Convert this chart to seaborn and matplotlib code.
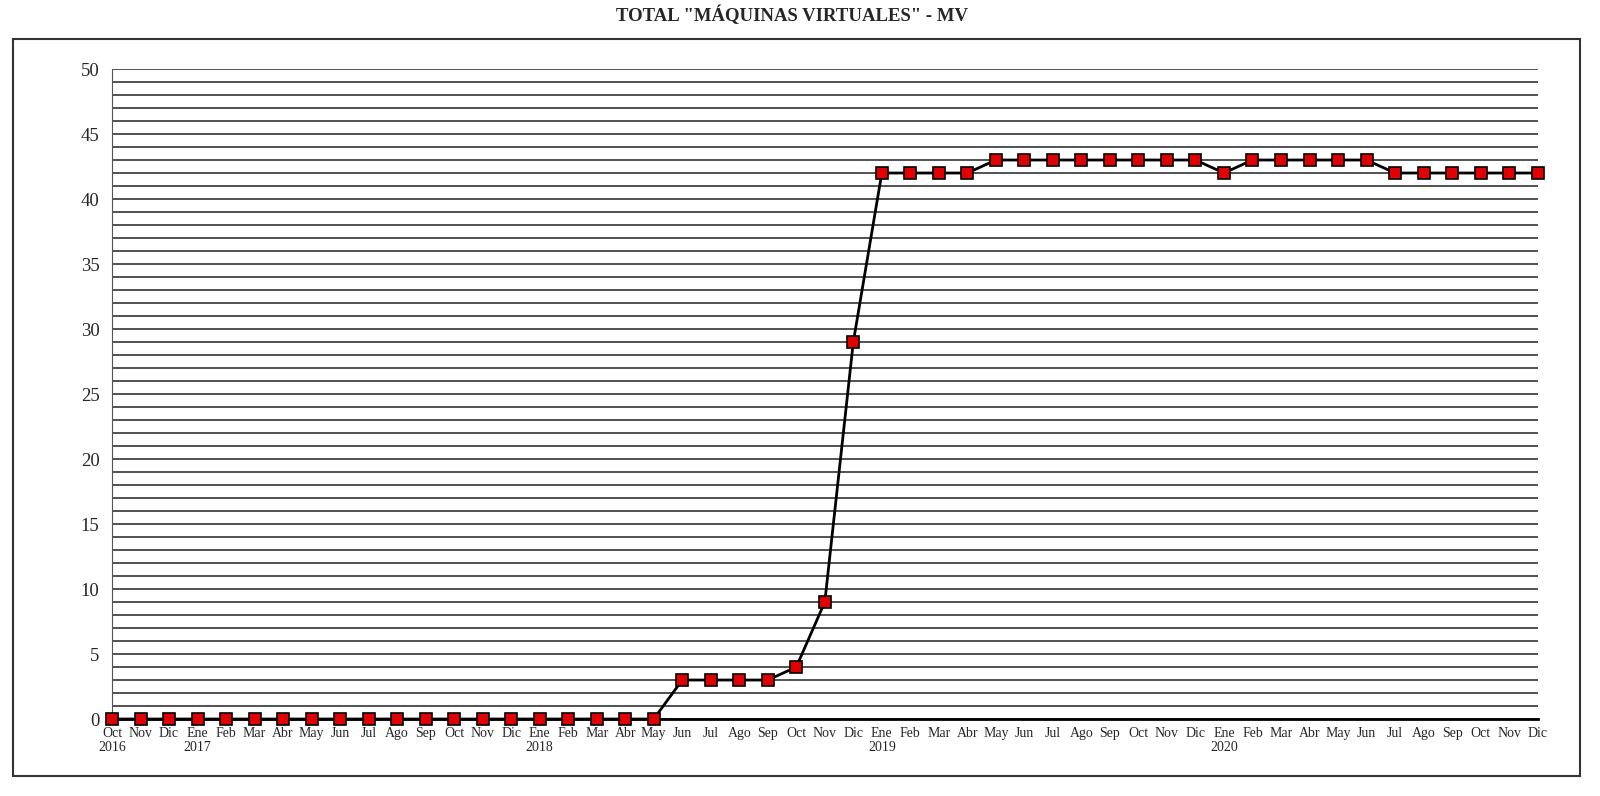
import numpy as np
import pandas as pd
import matplotlib
matplotlib.use('Agg')
import matplotlib.pyplot as plt
import seaborn as sns

# data: months Oct 2016 .. Dic 2020
meses = ['Oct', 'Nov', 'Dic'] + ['Ene', 'Feb', 'Mar', 'Abr', 'May', 'Jun',
                                 'Jul', 'Ago', 'Sep', 'Oct', 'Nov', 'Dic'] * 4
anios = {0: '2016', 3: '2017', 15: '2018', 27: '2019', 39: '2020'}

valores = [0, 0, 0,                                  # 2016
           0, 0, 0, 0, 0, 0, 0, 0, 0, 0, 0, 0,       # 2017
           0, 0, 0, 0, 0, 3, 3, 3, 3, 4, 9, 29,      # 2018
           42, 42, 42, 42, 43, 43, 43, 43, 43, 43, 43, 43,  # 2019
           42, 43, 43, 43, 43, 43, 42, 42, 42, 42, 42, 42]  # 2020

etiquetas = [m + ('\n' + anios[i] if i in anios else '') for i, m in enumerate(meses)]
df = pd.DataFrame({'idx': range(len(valores)), 'MV': valores})

sns.set_style('white')
plt.rcParams['font.family'] = ['Liberation Serif', 'DejaVu Serif']

fig = plt.figure(figsize=(16, 7.96), dpi=100)
ax = fig.add_axes([0.070, 0.0967, 0.891, 0.8166])

# outer frame
fig.patches.append(plt.Rectangle((0.008, 0.025), 0.9795, 0.926, transform=fig.transFigure,
                                 fill=False, edgecolor='#333333', linewidth=1.5))

# gridlines every unit
ax.set_yticks(range(0, 51, 5))
ax.set_yticks(range(0, 51, 1), minor=True)
ax.grid(which='both', axis='y', color='#222222', linewidth=1.1)
ax.set_axisbelow(True)

sns.lineplot(data=df, x='idx', y='MV', ax=ax, color='black', linewidth=2,
             marker='s', markersize=8.5, markerfacecolor='#e00000',
             markeredgecolor='black', markeredgewidth=1.2, zorder=5, clip_on=False)

ax.set_xlim(0, len(valores) - 1)
ax.set_ylim(0, 50)
ax.set_xticks(range(len(valores)))
ax.set_xticklabels(etiquetas, fontsize=10, linespacing=1.1)
ax.tick_params(axis='x', direction='inout', length=8, width=1.2, pad=2)
ax.tick_params(axis='y', which='major', direction='out', length=5, width=1, labelsize=13.5, pad=4)
ax.tick_params(axis='y', which='minor', length=0)
ax.set_xlabel('')
ax.set_ylabel('')

for s in ['top', 'right']:
    ax.spines[s].set_visible(False)
ax.spines['left'].set_color('#555555')
ax.spines['bottom'].set_color('black')
ax.spines['bottom'].set_linewidth(2)

fig.text(0.495, 0.981, 'TOTAL "MÁQUINAS VIRTUALES" - MV', ha='center', va='center',
         fontsize=13.5, fontweight='bold')

fig.savefig('out.png', dpi=100, facecolor='white')
